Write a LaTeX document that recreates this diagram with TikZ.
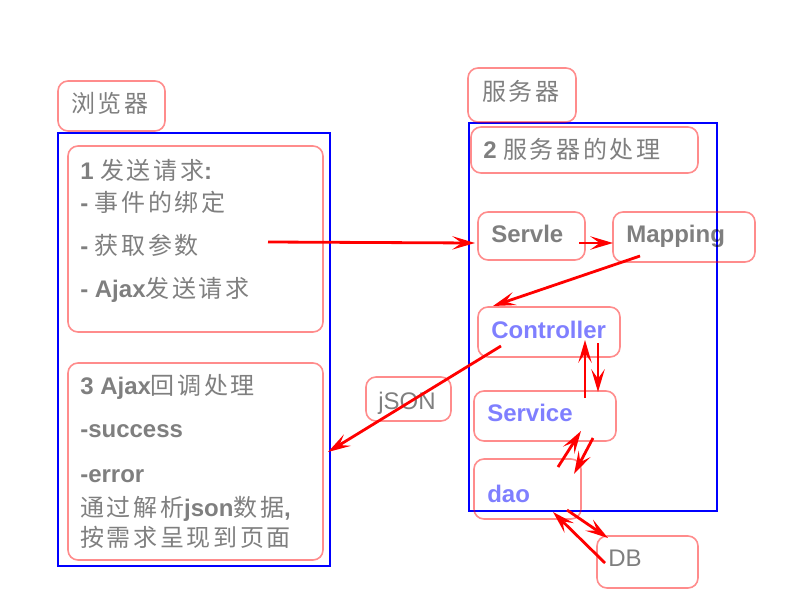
\documentclass[tikz,border=0pt]{standalone}
\usepackage{fontspec}
\setmainfont{Liberation Sans}
\newfontfamily\cjk[LetterSpace=11]{Noto Sans CJK SC}
\newcommand\zhtxt[1]{{\cjk\mdseries #1}}
\usetikzlibrary{arrows.meta,fit,calc}
\begin{document}
\begin{tikzpicture}[x=0.75pt,y=-0.75pt,
  pbox/.style={draw=red, draw opacity=0.45, line width=1.2pt, rounded corners=7.5pt, inner sep=0pt},
  frame/.style={draw=blue, line width=1.5pt, inner sep=0pt},
  txt/.style={anchor=base west, inner sep=0pt, text=black, text opacity=0.5, font=\fontsize{18}{22}\selectfont\bfseries},
  rtxt/.style={txt, font=\fontsize{18}{22}\selectfont},
  btxt/.style={txt, text=blue},
  arr/.style={draw=red, line width=2.1pt, -{Stealth[length=17pt,width=10pt,inset=7pt]}}]
\useasboundingbox (0,0) rectangle (800,600);
% corner coordinates
\path (58,133) coordinate (lf1) (330,566) coordinate (lf2)
      (469,123) coordinate (rf1) (717,511) coordinate (rf2)
      (58,81) coordinate (b1) (165,131) coordinate (b2)
      (68,146) coordinate (s1a) (323,332) coordinate (s1b)
      (68,363) coordinate (s3a) (323,560) coordinate (s3b)
      (366,377) coordinate (ja) (451,421) coordinate (jb)
      (468,68) coordinate (sva) (576,122) coordinate (svb)
      (471,127) coordinate (s2a) (698,173) coordinate (s2b)
      (478,212) coordinate (sla) (585,260) coordinate (slb)
      (613,212) coordinate (mpa) (755,262) coordinate (mpb)
      (478,307) coordinate (cta) (620,357) coordinate (ctb)
      (474,391) coordinate (sea) (616,441) coordinate (seb)
      (474,459) coordinate (daa) (581,519) coordinate (dab)
      (597,536) coordinate (dba) (698,588) coordinate (dbb);
% frames
\node[frame, fit=(lf1)(lf2)] (leftframe) {};
\node[frame, fit=(rf1)(rf2)] (rightframe) {};
% pink boxes
\node[pbox, fit=(b1)(b2)] (browser) {};
\node[pbox, fit=(s1a)(s1b)] (step1) {};
\node[pbox, fit=(s3a)(s3b)] (step3) {};
\node[pbox, fit=(ja)(jb)] (json) {};
\node[pbox, fit=(sva)(svb)] (server) {};
\node[pbox, fit=(s2a)(s2b)] (step2) {};
\node[pbox, fit=(sla)(slb)] (servle) {};
\node[pbox, fit=(mpa)(mpb)] (mapping) {};
\node[pbox, fit=(cta)(ctb)] (controller) {};
\node[pbox, fit=(sea)(seb)] (service) {};
\node[pbox, fit=(daa)(dab)] (dao) {};
\node[pbox, fit=(dba)(dbb)] (db) {};
% texts
\node[txt] (tbrowser) at (71,112) {\zhtxt{浏览器}};
\node[txt] (t1a) at (80,179) {1 \zhtxt{发送请求}:};
\node[txt] (t1b) at (80,211) {- \zhtxt{事件的绑定}};
\node[txt] (t1c) at (80,254) {- \zhtxt{获取参数}};
\node[txt] (t1d) at (80,297) {- Ajax\zhtxt{发送请求}};
\node[txt] (t3a) at (80,394) {3 Ajax\zhtxt{回调处理}};
\node[txt] (t3b) at (80,437) {-success};
\node[txt] (t3c) at (80,482) {-error};
\node[txt] (t3d) at (80,516) {\zhtxt{通过解析}json\zhtxt{数据},};
\node[txt] (t3e) at (80,546) {\zhtxt{按需求呈现到页面}};
\node[rtxt] (tjson) at (378,409) {jSON};
\node[txt] (tserver) at (482,100) {\zhtxt{服务器}};
\node[txt] (t2) at (483,158) {2 \zhtxt{服务器的处理}};
\node[txt] (tservle) at (491,242) {Servle};
\node[txt] (tmapping) at (626,242) {Mapping};
\node[btxt] (tcontroller) at (491,338) {Controller};
\node[btxt] (tservice) at (487,421) {Service};
\node[btxt] (tdao) at (487,502) {dao};
\node[rtxt] (tdb) at (608,566) {DB};
% arrow end points
\path (268,242) coordinate (a1s) (475,243) coordinate (a1e)
      (579,243) coordinate (a2s) (613,243) coordinate (a2e)
      (640,256) coordinate (a3s) (493,306) coordinate (a3e)
      (501,346) coordinate (a4s) (328,452) coordinate (a4e)
      (585,398) coordinate (a5s) (585,340) coordinate (a5e)
      (598,343) coordinate (a6s) (598,392) coordinate (a6e)
      (558,467) coordinate (a7s) (581,431) coordinate (a7e)
      (593,438) coordinate (a8s) (574,474) coordinate (a8e)
      (567,510) coordinate (a9s) (608,538) coordinate (a9e)
      (605,563) coordinate (a10s) (553,512) coordinate (a10e);
\draw[arr] (a1s) -- (a1e);
\draw[arr] (a2s) -- (a2e);
\draw[arr] (a3s) -- (a3e);
\draw[arr] (a4s) -- (a4e);
\draw[arr] (a5s) -- (a5e);
\draw[arr] (a6s) -- (a6e);
\draw[arr] (a7s) -- (a7e);
\draw[arr] (a8s) -- (a8e);
\draw[arr] (a9s) -- (a9e);
\draw[arr] (a10s) -- (a10e);
\end{tikzpicture}
\end{document}
